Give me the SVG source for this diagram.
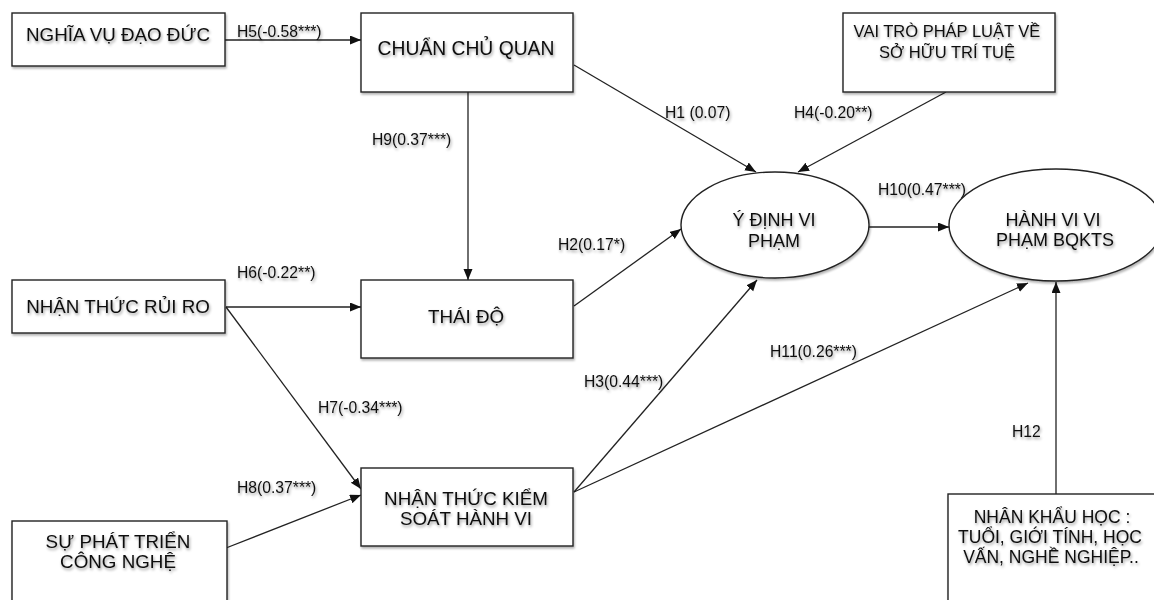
<svg xmlns="http://www.w3.org/2000/svg" width="1154" height="600" viewBox="0 0 1154 600">
  <defs>
    <marker id="arr" markerUnits="userSpaceOnUse" markerWidth="12" markerHeight="10" refX="11" refY="4.5" orient="auto">
      <path d="M0,0 L11,4.5 L0,9 Z" fill="#111"/>
    </marker>
    <filter id="tsh" x="-10%" y="-30%" width="120%" height="160%">
      <feGaussianBlur in="SourceAlpha" stdDeviation="1.6"/>
      <feOffset dx="0.5" dy="1.5" result="b"/>
      <feComponentTransfer><feFuncA type="linear" slope="0.4"/></feComponentTransfer>
      <feMerge><feMergeNode/><feMergeNode in="SourceGraphic"/></feMerge>
    </filter>
    <filter id="bsh" x="-5%" y="-5%" width="110%" height="115%">
      <feGaussianBlur in="SourceAlpha" stdDeviation="1.2"/>
      <feOffset dx="0.5" dy="1.5"/>
      <feComponentTransfer><feFuncA type="linear" slope="0.3"/></feComponentTransfer>
      <feMerge><feMergeNode/><feMergeNode in="SourceGraphic"/></feMerge>
    </filter>
  </defs>
  <style>
    .box { fill: #fff; stroke: #222; stroke-width: 1.4; }
    .t { font-family: "Liberation Sans", Arial, sans-serif; fill: #111; text-anchor: middle; }
    .n { font-size: 18.8px; }
    .e { font-size: 18px; }
    .s { font-size: 16.5px; }
    .k { font-size: 17.5px; }
    .lbl { font-family: "Liberation Sans", Arial, sans-serif; font-size: 15.7px; fill: #111; }
    .c { stroke: #222; stroke-width: 1.3; fill: none; marker-end: url(#arr); }
  </style>
  <rect width="1154" height="600" fill="#fff"/>

  <g id="connectors">
    <line class="c" x1="225" y1="40" x2="361" y2="40"/>
    <line class="c" x1="468" y1="92" x2="468" y2="280"/>
    <line class="c" x1="574" y1="65" x2="756" y2="172"/>
    <line class="c" x1="946" y1="92" x2="798" y2="172"/>
    <line class="c" x1="869" y1="227" x2="949" y2="227"/>
    <line class="c" x1="574" y1="306" x2="681" y2="229"/>
    <line class="c" x1="226" y1="307" x2="361" y2="307"/>
    <line class="c" x1="226" y1="307" x2="361" y2="489"/>
    <line class="c" x1="226" y1="548" x2="361" y2="495"/>
    <line class="c" x1="574" y1="492" x2="757" y2="280"/>
    <line class="c" x1="574" y1="492" x2="1028" y2="283"/>
    <line class="c" x1="1056" y1="494" x2="1056" y2="282"/>
    <g filter="url(#tsh)">
      <text class="lbl" x="237" y="37">H5(-0.58***)</text>
      <text class="lbl" x="372" y="145">H9(0.37***)</text>
      <text class="lbl" x="665" y="118">H1 (0.07)</text>
      <text class="lbl" x="794" y="118">H4(-0.20**)</text>
      <text class="lbl" x="878" y="195">H10(0.47***)</text>
      <text class="lbl" x="558" y="250">H2(0.17*)</text>
      <text class="lbl" x="237" y="278">H6(-0.22**)</text>
      <text class="lbl" x="318" y="413">H7(-0.34***)</text>
      <text class="lbl" x="237" y="493">H8(0.37***)</text>
      <text class="lbl" x="584" y="387">H3(0.44***)</text>
      <text class="lbl" x="770" y="357">H11(0.26***)</text>
      <text class="lbl" x="1012" y="437">H12</text>
    </g>
  </g>

  <g id="nghia-vu-dao-duc">
    <rect class="box" filter="url(#bsh)" x="12" y="13" width="213" height="53"/>
    <text class="t n" filter="url(#tsh)" x="118" y="41">NGHĨA VỤ ĐẠO ĐỨC</text>
  </g>
  <g id="chuan-chu-quan">
    <rect class="box" filter="url(#bsh)" x="361" y="13" width="212" height="79"/>
    <text class="t n" filter="url(#tsh)" x="466" y="55" style="font-size:19.3px">CHUẨN CHỦ QUAN</text>
  </g>
  <g id="vai-tro-phap-luat">
    <rect class="box" filter="url(#bsh)" x="843" y="13" width="212" height="79"/>
    <text class="t s" filter="url(#tsh)" x="947" y="37">VAI TRÒ PHÁP LUẬT VỀ</text>
    <text class="t s" filter="url(#tsh)" x="947" y="58">SỞ HỮU TRÍ TUỆ</text>
  </g>
  <g id="y-dinh-vi-pham">
    <ellipse class="box" filter="url(#bsh)" cx="775" cy="225" rx="94" ry="53"/>
    <text class="t e" filter="url(#tsh)" x="774" y="226">Ý ĐỊNH VI</text>
    <text class="t e" filter="url(#tsh)" x="774" y="247">PHẠM</text>
  </g>
  <g id="hanh-vi-vi-pham">
    <ellipse class="box" filter="url(#bsh)" cx="1056" cy="225" rx="107" ry="56"/>
    <text class="t e" filter="url(#tsh)" x="1053" y="226">HÀNH VI VI</text>
    <text class="t e" filter="url(#tsh)" x="1055" y="246">PHẠM BQKTS</text>
  </g>
  <g id="nhan-thuc-rui-ro">
    <rect class="box" filter="url(#bsh)" x="12" y="280" width="213" height="53"/>
    <text class="t n" filter="url(#tsh)" x="118" y="313">NHẬN THỨC RỦI RO</text>
  </g>
  <g id="thai-do">
    <rect class="box" filter="url(#bsh)" x="361" y="280" width="212" height="78"/>
    <text class="t n" filter="url(#tsh)" x="466" y="323">THÁI ĐỘ</text>
  </g>
  <g id="nhan-thuc-kiem-soat">
    <rect class="box" filter="url(#bsh)" x="361" y="468" width="212" height="78"/>
    <text class="t n" filter="url(#tsh)" x="466" y="505">NHẬN THỨC KIỂM</text>
    <text class="t n" filter="url(#tsh)" x="466" y="525">SOÁT HÀNH VI</text>
  </g>
  <g id="su-phat-trien-cong-nghe">
    <rect class="box" filter="url(#bsh)" x="12" y="521" width="215" height="100"/>
    <text class="t n" filter="url(#tsh)" x="118" y="548">SỰ PHÁT TRIỂN</text>
    <text class="t n" filter="url(#tsh)" x="118" y="568">CÔNG NGHỆ</text>
  </g>
  <g id="nhan-khau-hoc">
    <rect class="box" filter="url(#bsh)" x="948" y="494" width="220" height="130"/>
    <text class="t k" filter="url(#tsh)" x="1052" y="523">NHÂN KHẨU HỌC :</text>
    <text class="t k" filter="url(#tsh)" x="1050" y="543">TUỔI, GIỚI TÍNH, HỌC</text>
    <text class="t k" filter="url(#tsh)" x="1051" y="563">VẤN, NGHỀ NGHIỆP..</text>
  </g>
</svg>
